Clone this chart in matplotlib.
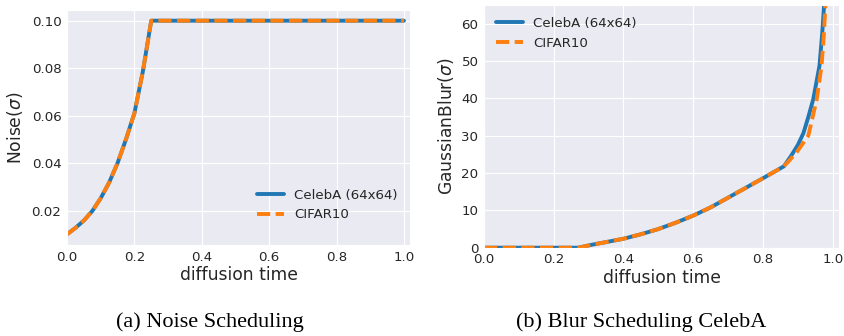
import matplotlib
matplotlib.use("Agg")
import matplotlib.pyplot as plt
import seaborn as sns

sns.set_style("darkgrid")
plt.rcParams['font.family'] = ['DejaVu Sans']
plt.rcParams['mathtext.fontset'] = 'dejavusans'

# Noise scheduling (both datasets identical)
noise_t = [0.0, 0.025, 0.05, 0.075, 0.1, 0.125, 0.15, 0.175, 0.2, 0.225, 0.25, 1.0]
noise_celeba = [0.0100, 0.0127, 0.0158, 0.0198, 0.0252, 0.0318, 0.0400, 0.0500, 0.0610, 0.0785, 0.1000, 0.1000]
noise_cifar = [0.0100, 0.0127, 0.0158, 0.0198, 0.0252, 0.0318, 0.0400, 0.0500, 0.0610, 0.0785, 0.1000, 0.1000]

# Blur scheduling
blur_t_celeba = [0.0, 0.27, 0.31, 0.35, 0.40, 0.45, 0.50, 0.55, 0.60, 0.65, 0.70, 0.75, 0.80,
                 0.86, 0.88, 0.90, 0.916, 0.93, 0.944, 0.962, 0.970, 0.976, 0.98]
blur_celeba = [0.0, 0.0, 0.8, 1.5, 2.4, 3.6, 5.0, 6.7, 8.6, 10.8, 13.4, 16.0, 18.6,
               21.8, 24.5, 27.5, 30.7, 35.0, 39.7, 48.7, 57.6, 66.0, 75.0]
blur_t_cifar = [0.0, 0.27, 0.31, 0.35, 0.40, 0.45, 0.50, 0.55, 0.60, 0.65, 0.70, 0.75, 0.80,
                0.86, 0.878, 0.90, 0.93, 0.954, 0.968, 0.975, 0.979, 0.983]
blur_cifar = [0.0, 0.0, 0.8, 1.5, 2.4, 3.6, 5.0, 6.7, 8.6, 10.8, 13.4, 16.0, 18.6,
              21.8, 23.6, 26.0, 30.0, 39.7, 48.7, 57.6, 65.0, 75.0]

labels = ["CelebA (64x64)", "CIFAR10"]
xticks = [0.0, 0.2, 0.4, 0.6, 0.8, 1.0]

blue = "#1f77b4"
orange = "#ff7f0e"
tick_fs = 9.6
label_fs = 12.3
lw = 2.8
dashes = (3.4, 1.4)

fig = plt.figure(figsize=(8.45, 3.36), dpi=100)
ax1 = fig.add_axes([67/845, 1-245/336, (410-67)/845, (245-10)/336])
ax2 = fig.add_axes([484/845, 1-247.7/336, (839-484)/845, (247.7-5)/336])

ax1.plot(noise_t, noise_celeba, color=blue, lw=lw, label=labels[0])
ax1.plot(noise_t, noise_cifar, color=orange, lw=lw, dashes=dashes, label=labels[1])
ax1.set_xlim(0, 1.018)
ax1.set_ylim(0.0055, 0.1045)
ax1.set_yticks([0.02, 0.04, 0.06, 0.08, 0.10])
ax1.set_xticks(xticks)
ax1.set_xlabel("diffusion time", fontsize=label_fs, labelpad=2)
ax1.set_ylabel(r"Noise($\sigma$)", fontsize=label_fs, labelpad=5)
ax1.legend(loc="lower right", frameon=False, fontsize=tick_fs, bbox_to_anchor=(1.0, 0.05))

ax2.plot(blur_t_celeba, blur_celeba, color=blue, lw=lw, label=labels[0])
ax2.plot(blur_t_cifar, blur_cifar, color=orange, lw=lw, dashes=dashes, label=labels[1])
ax2.set_xlim(0, 1.018)
ax2.set_ylim(0, 65)
ax2.set_yticks([0, 10, 20, 30, 40, 50, 60])
ax2.set_xticks(xticks)
ax2.set_xlabel("diffusion time", fontsize=label_fs, labelpad=2)
ax2.set_ylabel(r"GaussianBlur($\sigma$)", fontsize=label_fs, labelpad=4)
ax2.legend(loc="upper left", frameon=False, fontsize=tick_fs)

for ax in (ax1, ax2):
    ax.tick_params(labelsize=tick_fs, length=0, pad=4)
    ax.set_xticklabels([f"{v:.1f}" for v in xticks])
ax1.set_yticklabels(["0.02", "0.04", "0.06", "0.08", "0.10"])

fig.text(210/845, 1-322/336, "(a) Noise Scheduling", ha="center", va="center",
         fontsize=16, family="Liberation Serif", color="black")
fig.text(641/845, 1-322/336, "(b) Blur Scheduling CelebA", ha="center", va="center",
         fontsize=16, family="Liberation Serif", color="black")

fig.savefig("out.png", dpi=100)
